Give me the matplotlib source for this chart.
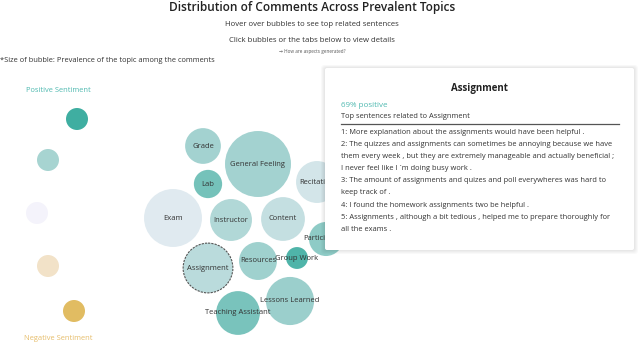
import matplotlib.pyplot as plt
from matplotlib.patches import Circle, FancyBboxPatch
from matplotlib.colors import LinearSegmentedColormap
import numpy as np

plt.rcParams['font.family'] = ['Open Sans', 'DejaVu Sans']

# topics found in the comments
topics = ["General Feeling", "Exam", "Assignment", "Lessons Learned", "Content",
          "Teaching Assistant", "Instructor", "Recitation", "Resources", "Grade",
          "Participation", "Lab", "Group Work"]
mentions = [109, 84, 62, 58, 48, 48, 44, 44, 36, 32, 29, 20, 12]
pct_positive = [0.76, 0.57, 0.69, 0.78, 0.66, 0.86, 0.72, 0.61, 0.77, 0.76,
                0.81, 0.87, 0.96]

# centres from the packed bubble layout (page pixels)
layout_x = [258, 173, 208, 290, 283, 238, 231, 317, 258, 203, 326, 208, 297]
layout_y = [164, 218, 268, 301, 219, 313, 220, 182, 261, 146, 239, 184, 258]

# sentiment scale shown on the left
legend_levels = [1.0, 0.75, 0.5, 0.25, 0.0]
legend_x = [77, 48, 37, 48, 74]
legend_y = [119, 160, 213, 266, 311]

selected = "Assignment"
top_sentences = [
    "1: More explanation about the assignments would have been helpful .",
    "2: The quizzes and assignments can sometimes be annoying because we have\n"
    "them every week , but they are extremely manageable and actually beneficial ;\n"
    "I never feel like I \u00b4m doing busy work .",
    "3: The amount of assignments and quizes and poll everywheres was hard to\n"
    "keep track of .",
    "4: I found the homework assignments two be helpful .",
    "5: Assignments , although a bit tedious , helped me to prepare thoroughly for\n"
    "all the exams .",
]

sentiment_cmap = LinearSegmentedColormap.from_list(
    "sentiment",
    [(0.0, "#e1bc62"), (0.25, "#f2e2c8"), (0.5, "#f5f3fb"),
     (0.75, "#a8d4d2"), (1.0, "#3faea1")])

fig = plt.figure(figsize=(6.4, 3.43), dpi=100)
ax = fig.add_axes([0, 0, 1, 1])
ax.set_xlim(0, 640)
ax.set_ylim(343, 0)
ax.axis('off')

cx = 312
ax.text(cx, 7.5, "Distribution of Comments Across Prevalent Topics", ha='center',
        va='center', fontsize=8.6, fontweight='semibold', color='#222222')
ax.text(cx, 24, "Hover over bubbles to see top related sentences", ha='center',
        va='center', fontsize=5.6, color='#333333')
ax.text(cx, 40, "Click bubbles or the tabs below to view details", ha='center',
        va='center', fontsize=5.6, color='#333333')
ax.text(cx, 52, "\u2192 How are aspects generated?", ha='center', va='center',
        fontsize=3.3, color='#555555')
ax.text(0, 60, "*Size of bubble: Prevalence of the topic among the comments",
        ha='left', va='center', fontsize=5.4, color='#333333')

# sentiment legend
ax.text(58, 91, "Positive Sentiment", ha='center', va='center', fontsize=5.4,
        color='#4fb9b0')
ax.text(58, 339, "Negative Sentiment", ha='center', va='center', fontsize=5.4,
        color='#e6bd6a')
for lv, x, y in zip(legend_levels, legend_x, legend_y):
    ax.add_patch(Circle((x, y), 11, facecolor=sentiment_cmap(lv), edgecolor='none'))

# bubbles
radii = np.sqrt(mentions) * 3.16
for name, r, p, x, y in zip(topics, radii, pct_positive, layout_x, layout_y):
    c = Circle((x, y), r, facecolor=sentiment_cmap(p), edgecolor='none', zorder=2)
    ax.add_patch(c)
    if name == selected:
        ax.add_patch(Circle((x, y), r, facecolor='none', edgecolor='#555555',
                            lw=0.8, ls=(0, (2, 1)), zorder=3))
    ax.text(x, y, name, ha='center', va='center', fontsize=5.5, color='#333333',
            zorder=4)

# detail panel for the selected topic
px0, py0, pw, ph = 325, 68, 309, 182
for k in range(1, 6):
    ax.add_patch(FancyBboxPatch((px0 - k * 0.8, py0 - k * 0.6), pw + k * 1.6,
                                ph + k * 1.4, boxstyle="round,pad=0,rounding_size=3",
                                facecolor='#000000', edgecolor='none',
                                alpha=0.02, zorder=5))
ax.add_patch(FancyBboxPatch((px0, py0), pw, ph,
                            boxstyle="round,pad=0,rounding_size=2",
                            facecolor='white', edgecolor='none', zorder=6))

i_sel = topics.index(selected)
ax.text(479, 89, selected, ha='center', va='center', fontsize=7,
        fontweight='bold', color='#222222', zorder=7)
ax.text(341, 105.5, f"{round(pct_positive[i_sel] * 100)}% positive", ha='left',
        va='center', fontsize=5.8, color='#4fb9b0', zorder=7)
ax.text(341, 117, f"Top sentences related to {selected}", ha='left',
        va='center', fontsize=5.4, color='#333333', zorder=7)
ax.plot([341, 619], [124, 124], color='#555555', lw=0.9, zorder=7)

y = 132.7
for s in top_sentences:
    for line in s.split("\n"):
        ax.text(341, y, line, ha='left', va='center', fontsize=5.4,
                color='#333333', zorder=7)
        y += 12.05

fig.savefig("out.png", dpi=100)
